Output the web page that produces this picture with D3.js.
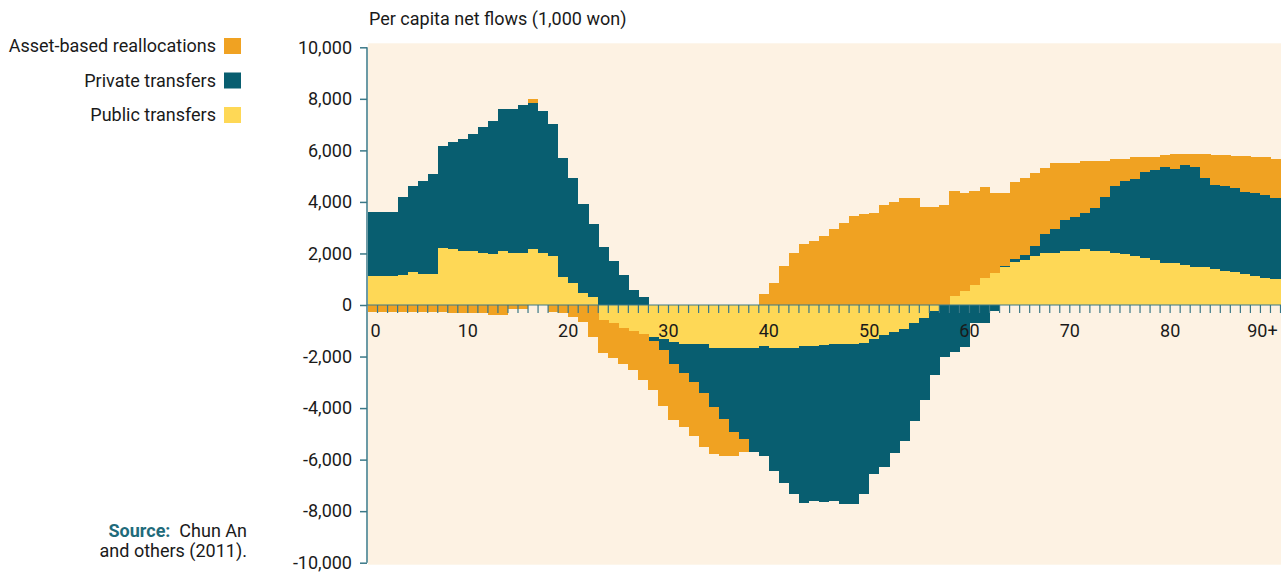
<!DOCTYPE html>
<html>
<head>
<meta charset="utf-8">
<script src="https://cdn.jsdelivr.net/npm/d3@7"></script>
<style>
  body { margin: 0; background: #fff; }
  text { font-family: Roboto, "Open Sans", sans-serif; fill: #1a1a1a; }
</style>
</head>
<body>
<div id="chart"></div>
<script>
'use strict';

const w = 1281;
const h = 572;

// ages 0 .. 90+
const ages = d3.range(0, 91);
const tickAges = [0, 10, 20, 30, 40, 50, 60, 70, 80, 90];
const tickLabels = ["0", "10", "20", "30", "40", "50", "60", "70", "80", "90+"];
const yTicks = [-10000, -8000, -6000, -4000, -2000, 0, 2000, 4000, 6000, 8000, 10000];

// per capita net flows, 1,000 won
const publicTransfers = [
  1125, 1125, 1125, 1160, 1280, 1200, 1200, 2210, 2170, 2100,
  2100, 2020, 1980, 2100, 2020, 2020, 2170, 2020, 1900, 1090,
  850, 470, 310, -580, -700, -890, -1010, -1125, -1240, -1320,
  -1440, -1510, -1510, -1510, -1670, -1670, -1670, -1670, -1670, -1590,
  -1670, -1670, -1670, -1590, -1590, -1550, -1510, -1510, -1510, -1470,
  -1320, -1160, -1050, -930, -700, -500, -230, 0, 350, 540,
  780, 1050, 1240, 1475, 1670, 1750, 1900, 2020, 2020, 2100,
  2100, 2170, 2100, 2100, 2020, 1980, 1900, 1820, 1750, 1630,
  1630, 1550, 1475, 1475, 1400, 1320, 1280, 1200, 1125, 1050,
  1010];

const privateTransfers = [
  2480, 2480, 2480, 3030, 3340, 3610, 3880, 3960, 4150, 4350,
  4540, 4890, 5160, 5510, 5590, 5740, 5680, 5510, 5120, 4620,
  4070, 3450, 2830, 2250, 1710, 1160, 580, 310, -155, -430,
  -850, -1125, -1475, -1900, -2290, -2755, -3260, -3530, -4035, -4270,
  -4770, -5240, -5665, -6090, -6015, -6090, -6090, -6210, -6210, -5860,
  -5240, -5120, -4700, -4350, -3800, -3180, -2480, -2020, -1820, -1630,
  -700, -700, -230, 40, 120, 190, 390, 740, 930, 1200,
  1320, 1400, 1670, 2100, 2600, 2830, 2990, 3340, 3490, 3730,
  3650, 3880, 3880, 3450, 3260, 3300, 3260, 3180, 3220, 3220,
  3140];

const assetReallocations = [
  -260, -260, -260, -260, -260, -260, -260, -260, -320, -320,
  -320, -320, -390, -390, -155, -155, 140, 0, -260, -320,
  -450, -650, -1230, -1270, -1350, -1385, -1500, -1775, -1890, -2160,
  -2160, -2085, -2085, -2085, -1810, -1425, -920, -490, 0, 430,
  850, 1510, 2020, 2370, 2480, 2680, 2950, 3180, 3450, 3530,
  3570, 3880, 4000, 4150, 4150, 3800, 3800, 3880, 4075, 3800,
  3650, 3530, 3100, 2830, 2990, 2990, 2830, 2560, 2560, 2210,
  2100, 2020, 1820, 1400, 1050, 850, 850, 580, 500, 470,
  580, 430, 500, 930, 1160, 1200, 1240, 1400, 1400, 1470,
  1510];

const keys = ["public", "private", "asset"];
const legendNames = ["Asset-based reallocations", "Private transfers", "Public transfers"];
const legendKeys = ["asset", "private", "public"];

const color = d3.scaleOrdinal().
domain(keys).
range(["#fed856", "#085e70", "#f0a222"]);

const axisColor = "#3a7887";

const table = ages.map((a, i) => ({
  age: a,
  public: publicTransfers[i],
  private: privateTransfers[i],
  asset: assetReallocations[i] }));

const series = d3.stack().
keys(keys).
offset(d3.stackOffsetDiverging)(table);

const x = d3.scaleBand().
domain(ages).
range([367.5, 1280.5]).
padding(0);

const y = d3.scaleLinear().
domain([-10000, 10000]).
range([562.7, 47.3]);

const svg = d3.select("#chart").append("svg").
attr("width", w).
attr("height", h);

//Cream plot background
svg.append("rect").
attr("x", 368).
attr("y", y(10000) - 4).
attr("width", w - 368).
attr("height", y(-10000) - y(10000) + 6).
attr("fill", "#fdf2e3");

//Stacked bars
svg.append("g").
selectAll("g").
data(series).
enter().
append("g").
attr("fill", d => color(d.key)).
selectAll("rect").
data(d => d).
enter().
append("rect").
attr("shape-rendering", "crispEdges").
attr("x", d => x(d.data.age)).
attr("width", x.bandwidth() + 0.3).
attr("y", d => y(Math.max(d[0], d[1]))).
attr("height", d => Math.abs(y(d[0]) - y(d[1])));

//Y axis
const fmt = d3.format(",");
const yAxis = svg.append("g").
attr("transform", "translate(367,0)").
call(d3.axisLeft(y).
tickValues(yTicks).
tickSize(7).
tickPadding(8).
tickFormat(d => (d < 0 ? "-" : "") + fmt(Math.abs(d))));

yAxis.select(".domain").remove();
yAxis.append("line").
attr("y1", y(10000)).
attr("y2", y(-10000)).
attr("stroke", axisColor).
attr("stroke-width", 1.5);
yAxis.selectAll(".tick line").attr("stroke", axisColor).attr("stroke-width", 1.5);
yAxis.selectAll(".tick text").
attr("fill", "#1a1a1a").
style("font-size", "18px");

//X axis along zero: line with small ticks at every bar edge
const xAxis = svg.append("g");
xAxis.append("line").
attr("x1", 367).
attr("x2", w).
attr("y1", y(0)).
attr("y2", y(0)).
attr("stroke", axisColor).
attr("stroke-width", 1.2);

xAxis.selectAll("line.xt").
data(ages).
enter().
append("line").
classed("xt", true).
attr("x1", d => x(d) + x.bandwidth()).
attr("x2", d => x(d) + x.bandwidth()).
attr("y1", y(0)).
attr("y2", y(0) + 8).
attr("stroke", axisColor).
attr("stroke-width", 1.2);

xAxis.selectAll("text").
data(tickAges).
enter().
append("text").
attr("x", (d, i) => i === 0 ? x(d) + 8 : i === tickAges.length - 1 ? x(d) - 8 : x(d)).
attr("y", 337).
attr("text-anchor", "middle").
style("font-size", "18px").
text((d, i) => tickLabels[i]);

//Title
svg.append("text").
attr("x", 369).
attr("y", 25).
style("font-size", "18px").
text("Per capita net flows (1,000 won)");

//Legend
const legend = svg.append("g").
selectAll("g").
data(legendKeys).
enter().
append("g").
attr("transform", (d, i) => "translate(0," + (46 + i * 34.5) + ")");

legend.append("rect").
attr("x", 224).
attr("y", -8).
attr("width", 17).
attr("height", 16).
attr("fill", d => color(d));

legend.append("text").
attr("x", 216).
attr("y", 6).
attr("text-anchor", "end").
style("font-size", "18px").
text((d, i) => legendNames[i]);

//Source note
const note = svg.append("text").
attr("text-anchor", "end").
style("font-size", "18px");

const line1 = note.append("tspan").
attr("x", 247).
attr("y", 537);
line1.append("tspan").
style("font-weight", "bold").
style("fill", "#1f6b7b").
text("Source:");
line1.append("tspan").text("\u00a0 Chun An");

note.append("tspan").
attr("x", 247).
attr("y", 557).
text("and others (2011).");
</script>
</body>
</html>
